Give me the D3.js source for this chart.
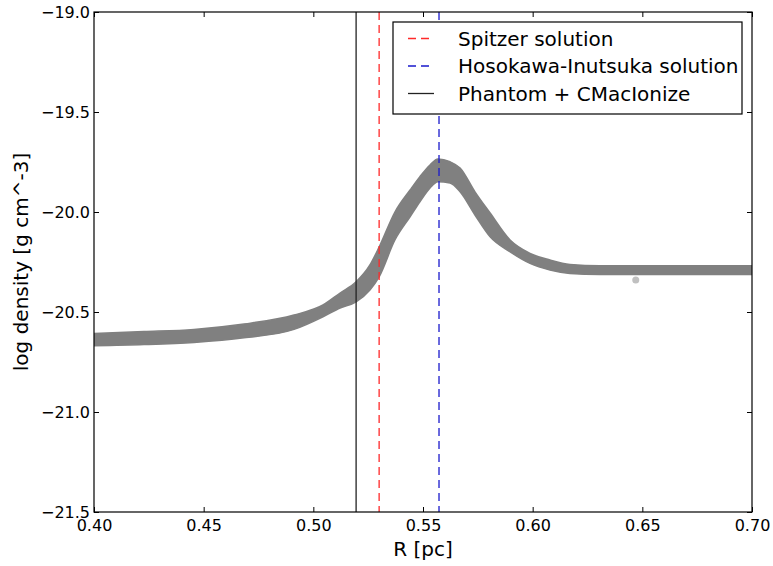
<!DOCTYPE html>
<html><head><meta charset="utf-8">
<script src="https://cdn.jsdelivr.net/npm/d3@7"></script>
<style>body{margin:0;background:#fff;} text{font-family:"DejaVu Sans",sans-serif;}</style>
</head><body>
<svg id="c" width="773" height="566"></svg>
<script>
// Radius [pc] sample positions along the scatter cloud
const radius = [0.400,0.4228,0.4456,0.4684,0.4912,0.5044,0.5122,0.5195,0.5258,0.5300,0.5372,0.5441,0.5486,0.5532,0.5568,0.5623,0.5669,0.5737,0.5806,0.5897,0.5988,0.6079,0.6170,0.6307,0.6650,0.700];
// upper and lower envelope of the log density cloud
const densUpper = [-20.607,-20.598,-20.587,-20.560,-20.515,-20.465,-20.405,-20.349,-20.265,-20.175,-20.000,-19.890,-19.823,-19.765,-19.735,-19.749,-19.780,-19.899,-20.005,-20.140,-20.207,-20.240,-20.262,-20.269,-20.269,-20.269];
const densLower = [-20.669,-20.663,-20.652,-20.629,-20.587,-20.524,-20.480,-20.449,-20.390,-20.324,-20.140,-20.024,-19.949,-19.880,-19.849,-19.855,-19.899,-20.015,-20.124,-20.199,-20.257,-20.290,-20.307,-20.312,-20.312,-20.312];
// stray particle
const outlierR = [0.647];
const outlierD = [-20.34];
// reference radii
const lineNames = ["Spitzer solution","Hosokawa-Inutsuka solution","Phantom + CMacIonize"];
const lineR = [0.530, 0.5573, 0.5195];
const lineColors = ["#ff2a2a","#1a1acc","#222222"];
const lineDash = ["8,5","8,5",null];
const xTicks = [0.40,0.45,0.50,0.55,0.60,0.65,0.70];
const yTicks = [-19.0,-19.5,-20.0,-20.5,-21.0,-21.5];

const svg = d3.select("#c");
const L=94, R=752, T=12, B=512;
const x = d3.scaleLinear().domain([0.40,0.70]).range([L,R]);
const y = d3.scaleLinear().domain([-21.5,-19.0]).range([B,T]);

const g = svg.append("g");
g.append("defs").append("clipPath").attr("id","clip").append("rect").attr("x",L).attr("y",T).attr("width",R-L).attr("height",B-T);
const band = radius.map((r,i)=>({r, u:densUpper[i], l:densLower[i], m:(densUpper[i]+densLower[i])/2}));
const area = d3.area().x(d=>x(d.r)).y0(d=>y(d.l)).y1(d=>y(d.u)).curve(d3.curveMonotoneX);
const mid = d3.line().x(d=>x(d.r)).y(d=>y(d.m)).curve(d3.curveMonotoneX);
const cl = g.append("g").attr("clip-path","url(#clip)");
cl.append("path").datum(band).attr("d",area).attr("fill","#808080").attr("stroke","#808080").attr("stroke-width",1.5).attr("stroke-linejoin","round");
cl.append("path").datum(band).attr("d",mid).attr("fill","none").attr("stroke","#808080").attr("stroke-width",9).attr("stroke-linejoin","round").attr("stroke-linecap","round");
g.selectAll("circle.out").data(outlierR).join("circle").attr("cx",d=>x(d)).attr("cy",(d,i)=>y(outlierD[i])).attr("r",3.5).attr("fill","#c0c0c0");

// vertical lines
lineR.forEach((r,i)=>{
  g.append("line").attr("x1",x(r)).attr("x2",x(r)).attr("y1",T).attr("y2",B)
   .attr("stroke",lineColors[i]).attr("stroke-width",1.3).attr("stroke-dasharray",lineDash[i]);
});

// axes with inward ticks on all sides
const fmt = d=>d.toFixed(2);
const fmtY = d=>(d<0?"\u2212":"")+Math.abs(d).toFixed(1);
const ax = svg.append("g").attr("transform",`translate(0,${B})`).call(d3.axisBottom(x).tickValues(xTicks).tickFormat(fmt).tickSizeInner(-5).tickSizeOuter(0).tickPadding(8));
const axT = svg.append("g").attr("transform",`translate(0,${T})`).call(d3.axisTop(x).tickValues(xTicks).tickFormat("").tickSizeInner(-5).tickSizeOuter(0));
const ay = svg.append("g").attr("transform",`translate(${L},0)`).call(d3.axisLeft(y).tickValues(yTicks).tickFormat(fmtY).tickSizeInner(-5).tickSizeOuter(0).tickPadding(4));
const ayR = svg.append("g").attr("transform",`translate(${R},0)`).call(d3.axisRight(y).tickValues(yTicks).tickFormat("").tickSizeInner(-5).tickSizeOuter(0));
[ax,axT,ay,ayR].forEach(a=>{a.select(".domain").remove(); a.selectAll("line").attr("stroke","#000"); a.selectAll("text").attr("font-size",16).attr("fill","#000").style("font-family","DejaVu Sans");});
svg.append("rect").attr("x",L).attr("y",T).attr("width",R-L).attr("height",B-T).attr("fill","none").attr("stroke","#000").attr("stroke-width",1.2);

svg.append("text").attr("x",(L+R)/2).attr("y",556).attr("text-anchor","middle").attr("font-size",20).text("R [pc]");
svg.append("text").attr("transform",`translate(28,${(T+B)/2}) rotate(-90)`).attr("text-anchor","middle").attr("font-size",20).text("log density [g cm^-3]");

// legend
const lg = svg.append("g");
lg.append("rect").attr("x",393).attr("y",22).attr("width",349).attr("height",92).attr("fill","#fff").attr("stroke","#000").attr("stroke-width",1.2);
[0,1,2].forEach((k,i)=>{
  const yy = 38.5 + i*27.5;
  lg.append("line").attr("x1",408).attr("x2",434).attr("y1",yy).attr("y2",yy).attr("stroke",lineColors[k]).attr("stroke-width",1.3).attr("stroke-dasharray",lineDash[k]);
  lg.append("text").attr("x",458).attr("y",yy).attr("dy","0.35em").attr("font-size",20).text(lineNames[k]);
});
</script>
</body></html>
